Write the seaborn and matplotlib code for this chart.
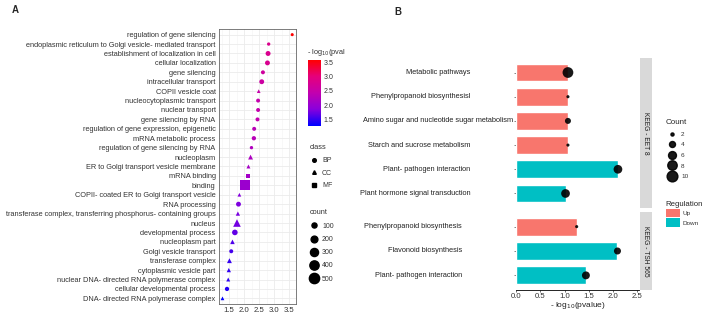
import numpy as np
import pandas as pd
import seaborn as sns
import matplotlib.pyplot as plt
from matplotlib.colors import LinearSegmentedColormap, Normalize
from matplotlib.cm import ScalarMappable
from matplotlib.lines import Line2D
from matplotlib.patches import Patch
from matplotlib.transforms import Bbox

# ---- panel A data (GO enrichment) ----
go_terms = [
    "regulation of gene silencing",
    "endoplasmic reticulum to Golgi vesicle- mediated transport",
    "establishment of localization in cell",
    "cellular localization",
    "gene silencing",
    "intracellular transport",
    "COPII vesicle coat",
    "nucleocytoplasmic transport",
    "nuclear transport",
    "gene silencing by RNA",
    "regulation of gene expression, epigenetic",
    "mRNA metabolic process",
    "regulation of gene silencing by RNA",
    "nucleoplasm",
    "ER to Golgi transport vesicle membrane",
    "mRNA binding",
    "binding",
    "COPII- coated ER to Golgi transport vesicle",
    "RNA processing",
    "transferase complex, transferring phosphorus- containing groups",
    "nucleus",
    "developmental process",
    "nucleoplasm part",
    "Golgi vesicle transport",
    "transferase complex",
    "cytoplasmic vesicle part",
    "nuclear DNA- directed RNA polymerase complex",
    "cellular developmental process",
    "DNA- directed RNA polymerase complex",
]
go_score = [3.59, 2.81, 2.79, 2.77, 2.62, 2.58, 2.48, 2.46, 2.46, 2.44,
            2.33, 2.32, 2.24, 2.21, 2.14, 2.12, 2.03, 1.84, 1.81, 1.79,
            1.76, 1.69, 1.61, 1.57, 1.51, 1.49, 1.47, 1.43, 1.28]
go_class = ["BP", "BP", "BP", "BP", "BP", "BP", "CC", "BP", "BP", "BP",
            "BP", "BP", "BP", "CC", "CC", "MF", "MF", "CC", "BP", "CC",
            "CC", "BP", "CC", "BP", "CC", "CC", "CC", "BP", "CC"]
go_count = [18, 27, 94, 90, 50, 90, 40, 50, 50, 50,
            50, 63, 27, 90, 50, 40, 500, 40, 90, 63,
            260, 128, 75, 50, 90, 63, 50, 63, 40]
count_breaks = [100, 200, 300, 400, 500]

# ---- panel B data (KEGG) ----
eet_terms = ["Metabolic pathways", "Phenylpropanoid biosynthesisl",
             "Amino sugar and nucleotide sugar metabolism",
             "Starch and sucrose metabolism", "Plant- pathogen interaction",
             "Plant hormone signal transduction"]
eet_score = [1.07, 1.07, 1.07, 1.07, 2.10, 1.02]
eet_reg = ["Up", "Up", "Up", "Up", "Down", "Down"]
eet_count = [12, 2, 4, 2, 7, 7]

tsh_terms = ["Phenylpropanoid biosynthesis", "Flavonoid biosynthesis",
             "Plant- pathogen interaction"]
tsh_score = [1.25, 2.09, 1.44]
tsh_reg = ["Up", "Down", "Down"]
tsh_count = [2, 5, 6]
kegg_breaks = [2, 4, 6, 8, 10]

go_df = pd.DataFrame({"term": go_terms, "score": go_score,
                      "cls": go_class, "count": go_count})
eet_df = pd.DataFrame({"term": eet_terms, "score": eet_score,
                       "Regulation": eet_reg, "Count": eet_count})
tsh_df = pd.DataFrame({"term": tsh_terms, "score": tsh_score,
                       "Regulation": tsh_reg, "Count": tsh_count})

sns.set_theme(style="white")
plt.rcParams["font.family"] = ["Liberation Sans", "DejaVu Sans"]

W, H = 703, 314
fig = plt.figure(figsize=(W / 100, H / 100), dpi=100)


def fx(px):
    return px / W


def fy(py):
    return 1 - py / H


txt = "#333333"
go_cmap = LinearSegmentedColormap.from_list(
    "bluered", ["#0000FF", "#8A00DC", "#C300AE", "#E6007A", "#FF0000"])
go_norm = Normalize(min(go_score), max(go_score))
go_sizes = (3, 55)
go_size_norm = (0, 500)
kegg_sizes = (5, 60)
kegg_size_norm = (2, 10)
reg_pal = {"Up": "#F8766D", "Down": "#00BFC4"}


def size_of(c, sizes, norm):
    return sizes[0] + (sizes[1] - sizes[0]) * (c - norm[0]) / (norm[1] - norm[0])


# ---------------- Panel A ----------------
ax_a = fig.add_axes([fx(219), fy(304), fx(295.7 - 219), (304 - 29) / H])
sns.scatterplot(data=go_df, x="score", y="term", hue="score", palette=go_cmap,
                hue_norm=go_norm, size="count", sizes=go_sizes,
                size_norm=go_size_norm, style="cls",
                markers={"BP": "o", "CC": "^", "MF": "s"},
                linewidth=0, legend=False, ax=ax_a, zorder=3)
ax_a.set_ylim(len(go_terms) - 1 + 0.6, -0.6)
lo, hi = min(go_score), max(go_score)
pad = (hi - lo) * 0.05
ax_a.set_xlim(lo - pad, hi + pad)
ax_a.set_xticks([1.5, 2.0, 2.5, 3.0, 3.5])
ax_a.set_xticks([1.25, 1.75, 2.25, 2.75, 3.25], minor=True)
ax_a.grid(True, which="major", color="#EBEBEB", lw=0.6)
ax_a.grid(True, which="minor", axis="x", color="#F3F3F3", lw=0.4)
ax_a.set_axisbelow(True)
ax_a.set_xlabel("")
ax_a.set_ylabel("")
for s in ax_a.spines.values():
    s.set_color("#666666")
    s.set_linewidth(0.6)
ax_a.tick_params(axis="both", which="major", length=1.5, width=0.5,
                 color=txt, labelcolor=txt, pad=1)
ax_a.tick_params(axis="y", labelsize=5.3)
ax_a.tick_params(axis="x", labelsize=5.6)
ax_a.tick_params(which="minor", length=0)

# colorbar legend
t = fig.text(fx(307), fy(53), "- log$_{10}$(pvalue)", fontsize=5.3,
             color=txt, va="center", ha="left")
t.set_clip_box(Bbox.from_extents(0, 0, 345, H))
cax = fig.add_axes([fx(307.5), fy(125.6), fx(13), (125.6 - 59.7) / H])
cb = fig.colorbar(ScalarMappable(norm=go_norm, cmap=go_cmap), cax=cax,
                  ticks=[1.5, 2.0, 2.5, 3.0, 3.5])
cb.outline.set_visible(False)
cax.tick_params(direction="in", color="white", length=2.5, width=0.6,
                labelsize=5, labelcolor=txt, pad=2)

class_handles = [Line2D([], [], marker=m, ls="", color="black", markersize=2.6)
                 for m in ["o", "^", "s"]]
leg1 = fig.legend(class_handles, ["BP", "CC", "MF"], title="class",
                  loc="upper left", bbox_to_anchor=(fx(306), fy(141)),
                  frameon=False, fontsize=5, title_fontsize=5.3,
                  borderpad=0, labelspacing=0.8, handlelength=1.2,
                  handletextpad=0.6, alignment="left")
for tt in leg1.get_texts() + [leg1.get_title()]:
    tt.set_color(txt)

count_handles = [Line2D([], [], marker="o", ls="", color="black",
                        markersize=np.sqrt(size_of(c, go_sizes, go_size_norm)))
                 for c in count_breaks]
leg2 = fig.legend(count_handles, [str(c) for c in count_breaks], title="count",
                  loc="upper left", bbox_to_anchor=(fx(306), fy(206)),
                  frameon=False, fontsize=5, title_fontsize=5.3,
                  borderpad=0, labelspacing=0.9, handlelength=1.2,
                  handletextpad=0.6, alignment="left")
for tt in leg2.get_texts() + [leg2.get_title()]:
    tt.set_color(txt)

# ---------------- Panel B ----------------
ax_top = fig.add_axes([fx(516), fy(208), fx(639.3 - 516), 150 / H])
ax_bot = fig.add_axes([fx(516), fy(290), fx(639.3 - 516), 78 / H])

for ax, df, lab_off in [(ax_top, eet_df, 45.5), (ax_bot, tsh_df, 54)]:
    sns.barplot(data=df, x="score", y="term", hue="Regulation",
                hue_order=["Up", "Down"], palette=reg_pal, dodge=False,
                width=0.74, saturation=1, errorbar=None, legend=False, ax=ax)
    sns.scatterplot(data=df, x="score", y="term", size="Count",
                    sizes=kegg_sizes, size_norm=kegg_size_norm, color="black",
                    alpha=0.9, linewidth=0, legend=False, ax=ax, zorder=4)
    ax.set_ylim(len(df) - 1 + 0.6, -0.6)
    ax.set_xlim(0, 2.54)
    ax.set_xlabel("")
    ax.set_ylabel("")
    ax.set_facecolor("white")
    for s in ax.spines.values():
        s.set_visible(False)
    ax.set_yticks(range(len(df)))
    ax.set_yticklabels([])
    ax.tick_params(axis="y", length=1.2, width=0.5, color="#555555", left=True)
    for i, term in enumerate(df["term"]):
        off = 2.5 if term.startswith("Amino") else lab_off
        ax.annotate(term, xy=(0, i), xycoords=("axes fraction", "data"),
                    xytext=(-off * 0.72, 0), textcoords="offset points",
                    ha="right", va="center", fontsize=5.3, color="#222222")

ax_top.set_xticks([])
ax_bot.spines["bottom"].set_visible(True)
ax_bot.spines["bottom"].set_color("black")
ax_bot.spines["bottom"].set_linewidth(0.6)
ax_bot.set_xticks([0.0, 0.5, 1.0, 1.5, 2.0, 2.5])
ax_bot.set_xticklabels(["0.0", "0.5", "1.0", "1.5", "2.0", "2.5"])
ax_bot.tick_params(axis="x", length=1.5, width=0.5, color=txt, bottom=True,
                   labelsize=5.6, labelcolor=txt, pad=1)
ax_bot.set_xlabel("- log$_{10}$(pvalue)", fontsize=6, color="#222222",
                  labelpad=0)

# facet strips
for (y0, y1, lab) in [(58, 208, "KEEG - EET 8"), (212, 290, "KEEG - TSH 565")]:
    sax = fig.add_axes([fx(640), fy(y1), fx(11.7), (y1 - y0) / H])
    sax.set_facecolor("#D9D9D9")
    sax.set_xticks([])
    sax.set_yticks([])
    for s in sax.spines.values():
        s.set_visible(False)
    sax.text(0.5, 0.5, lab, rotation=270, ha="center", va="center",
             fontsize=4.8, color="#1A1A1A", transform=sax.transAxes)

kegg_handles = [Line2D([], [], marker="o", ls="", color="black", alpha=0.9,
                       markersize=np.sqrt(size_of(c, kegg_sizes, kegg_size_norm)))
                for c in kegg_breaks]
leg3 = fig.legend(kegg_handles, [str(c) for c in kegg_breaks], title="Count",
                  loc="upper left", bbox_to_anchor=(fx(662.5), fy(116)),
                  frameon=False, fontsize=4.6, title_fontsize=5.8,
                  borderpad=0, labelspacing=0.8, handlelength=1.9,
                  handletextpad=0.5, alignment="left")
for tt in leg3.get_texts():
    tt.set_color(txt)

reg_handles = [Patch(facecolor=reg_pal[r], edgecolor="none") for r in ["Up", "Down"]]
leg4 = fig.legend(reg_handles, ["Up", "Down"], title="Regulation",
                  loc="upper left", bbox_to_anchor=(fx(662.5), fy(198)),
                  frameon=False, fontsize=4.6, title_fontsize=5.6,
                  borderpad=0, labelspacing=0.15, handlelength=2.2,
                  handleheight=1.6, handletextpad=0.5, alignment="left")
for tt in leg4.get_texts():
    tt.set_color(txt)

fig.text(fx(15), fy(10), "A", fontsize=7, fontweight="bold", ha="center",
         va="center")
fig.text(fx(398), fy(12), "B", fontsize=7, fontweight="bold", ha="center",
         va="center")

fig.savefig("out.png", dpi=100)
